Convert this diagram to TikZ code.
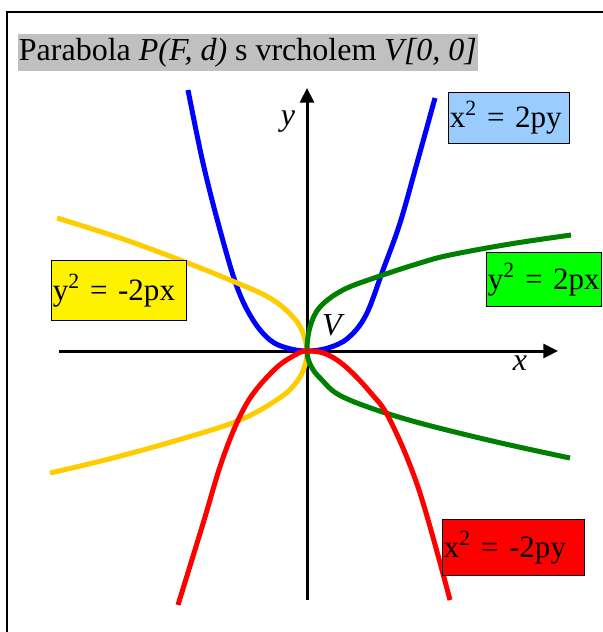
\documentclass[tikz,border=0pt]{standalone}
\usepackage{fontspec}
\setmainfont{Liberation Serif}
\usepackage{xcolor}
\usepackage{tikz}
\usetikzlibrary{arrows.meta}

\definecolor{lightblue}{HTML}{99CCFF}
\definecolor{gold}{HTML}{FFCC00}
\definecolor{darkgreen}{HTML}{008000}
\definecolor{titlegray}{HTML}{C0C0C0}

\begin{document}
\begin{tikzpicture}[
  x=0.75pt, y=-0.75pt,
  big/.style={font=\fontsize{24}{28}\selectfont},
  eq/.style={font=\fontsize{23.3}{27}\selectfont, draw=black, line width=0.9pt, anchor=north west, inner xsep=0.9pt, inner ysep=0pt, align=left},
  axis/.style={line width=2.25pt, -{Triangle[length=11pt, width=10.5pt]}},
  curve/.style={line width=3.75pt},
  lbl/.style={big, font=\fontsize{24}{28}\selectfont\itshape, inner sep=0pt}
]
\useasboundingbox (0,0) rectangle (603,632);

% frame (only the left and top edges are visible)
\draw[line width=1.5pt] (7,632) -- (7,12) -- (603,12);

% title
\node[big, fill=titlegray, anchor=west, inner xsep=0.5pt, inner ysep=0pt, minimum height=27.75pt] (title) at (18,52.5)
  {Parabola \textit{P(F, d)} s vrcholem \textit{V[0, 0]}};

% axes
\coordinate (O) at (307,351);
\coordinate (ybot) at (307,600);
\coordinate (ytop) at (307,88);
\coordinate (xleft) at (59,351);
\coordinate (xright) at (558,351);
\draw[axis] (ybot) -- (ytop);
\draw[axis] (xleft) -- (xright);
\node[lbl] (ylabel) at (288,122) {y};
\node[lbl] (xlabel) at (520,363) {x};
\node[lbl] (vlabel) at (332,325) {V};

% x^2 = 2py
\draw[curve, blue] plot[smooth, tension=0.6] coordinates {(188,90) (203,163) (220,230) (237,287) (253,320) (270,340) (287,348) (O) (328,348) (348,338) (366,315) (383,270) (400,223) (417,163) (435,98)};

% y^2 = -2px
\draw[curve, gold] plot[smooth, tension=0.6] coordinates {(57,218) (120,238) (180,260) (230,280) (270,298) (293,317) (303,333) (O) (305,365) (298,380) (281,397) (240,420) (178,440) (109,459) (50,473)};

% y^2 = 2px
\draw[curve, darkgreen] plot[smooth, tension=0.6] coordinates {(571,235) (510,244) (450,255) (420,263) (377,277) (343,290) (320,307) (310,327) (O) (311,366) (321,379) (343,397) (402,418) (488,440) (570,458)};

% x^2 = -2py
\draw[curve, red] plot[smooth, tension=0.6] coordinates {(178,605) (202,527) (224,455) (247,403) (274,370) (295,355) (O) (326,354) (346,367) (370,392) (390,420) (419,490) (450,600)};

% equation boxes
\node[eq, fill=lightblue, text width=88.9pt, minimum height=38.25pt] (bluebox) at (448,92) {\mbox{x\textsuperscript{2} = 2py}};
\node[eq, fill=green, text width=84.4pt, minimum height=40.5pt] (greenbox) at (486,252) {\mbox{y\textsuperscript{2} = 2px}};
\node[eq, fill=yellow, text width=99.4pt, minimum height=45pt] (yellowbox) at (51,260) {\mbox{y\textsuperscript{2} = -2px}};
\node[eq, fill=red, text width=104.7pt, minimum height=42pt] (redbox) at (442,519) {\mbox{x\textsuperscript{2} = -2py}};

\end{tikzpicture}
\end{document}
